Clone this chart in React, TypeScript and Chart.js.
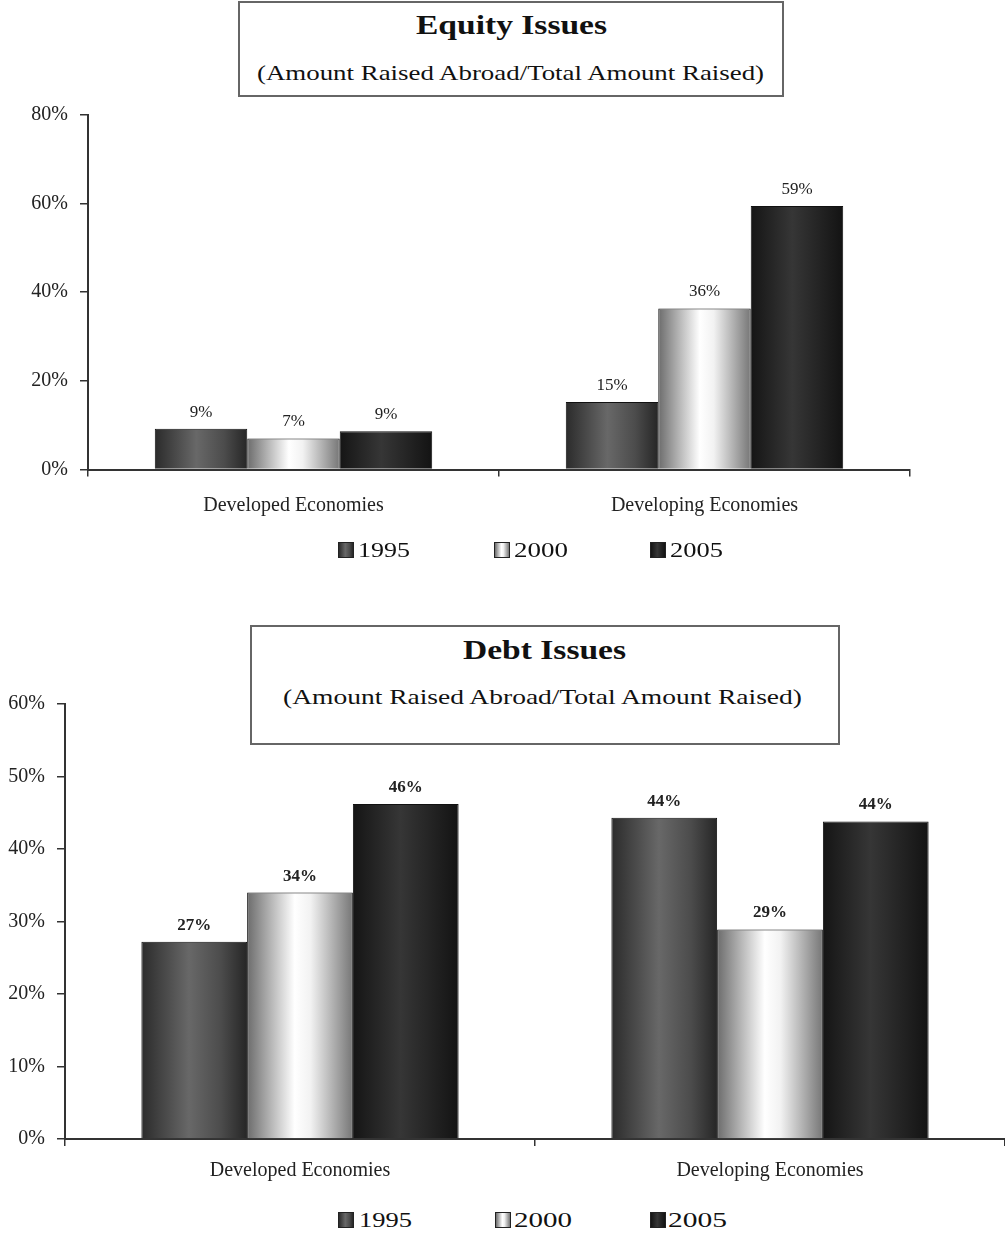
import React, { useEffect, useRef } from "react";
import { Chart, registerables } from "chart.js";

Chart.register(...registerables);

// ---------- data ----------
const categories = ["Developed Economies", "Developing Economies"];
const seriesNames = ["1995", "2000", "2005"];

const equity1995 = [9.2, 15.2];
const equity2000 = [7.0, 36.3];
const equity2005 = [8.6, 59.4];

const debt1995 = [27.2, 44.3];
const debt2000 = [34.0, 28.9];
const debt2005 = [46.2, 43.8];

const equityTicks = [0, 20, 40, 60, 80];
const debtTicks = [0, 10, 20, 30, 40, 50, 60];

const equityTitle = "Equity Issues";
const debtTitle = "Debt Issues";
const subTitle = "(Amount Raised Abroad/Total Amount Raised)";

// ---------- styles ----------
const SERIF = '"Liberation Serif", "Times New Roman", serif';

const gradientStops: [number, string][][] = [
  [[0, "#2b2b2b"], [0.45, "#686868"], [0.75, "#4c4c4c"], [1, "#262626"]],
  [[0, "#6c6c6c"], [0.45, "#ffffff"], [0.6, "#f2f2f2"], [1, "#767676"]],
  [[0, "#151515"], [0.45, "#363636"], [1, "#131313"]],
];
const solidColors = ["#555555", "#dddddd", "#262626"];

const cssGradient = (i: number) =>
  `linear-gradient(to right, ${gradientStops[i]
    .map(([o, c]) => `${c} ${o * 100}%`)
    .join(", ")})`;

const cylinderPlugin = {
  id: "cylinder",
  beforeDatasetsDraw(chart: any) {
    const ctx = chart.ctx;
    chart.data.datasets.forEach((_ds: any, di: number) => {
      const meta = chart.getDatasetMeta(di);
      meta.data.forEach((el: any) => {
        const half = el.width / 2;
        const g = ctx.createLinearGradient(el.x - half, 0, el.x + half, 0);
        gradientStops[di].forEach(([o, c]) => g.addColorStop(o, c));
        el.options = { ...el.options, backgroundColor: g };
      });
    });
  },
};

const valueLabelPlugin = {
  id: "valueLabels",
  afterDatasetsDraw(chart: any, _args: any, opts: any) {
    const ctx = chart.ctx;
    ctx.save();
    ctx.font = `${opts.weight || "normal"} ${opts.size || 16}px ${SERIF}`;
    ctx.fillStyle = "#222";
    ctx.textAlign = "center";
    ctx.textBaseline = "alphabetic";
    chart.data.datasets.forEach((ds: any, di: number) => {
      const meta = chart.getDatasetMeta(di);
      meta.data.forEach((el: any, i: number) => {
        ctx.fillText(Math.round(ds.data[i]) + "%", el.x, el.y - (opts.offset || 12));
      });
    });
    ctx.restore();
  },
};

const measureCtx = (() => {
  if (typeof document === "undefined") return null;
  return document.createElement("canvas").getContext("2d");
})();
function measure(text: string, font: string) {
  if (!measureCtx) return 1;
  measureCtx.font = font;
  return measureCtx.measureText(text).width || 1;
}

function Stretch({ text, size, bold, left, cy, width }: any) {
  const font = `${bold ? "bold " : ""}${size}px ${SERIF}`;
  const s = width / measure(text, font);
  return (
    <div
      style={{
        position: "absolute",
        left,
        top: cy - size / 2,
        font,
        lineHeight: 1,
        whiteSpace: "nowrap",
        color: "#111",
        transform: `scaleX(${s})`,
        transformOrigin: "left center",
      }}
    >
      {text}
    </div>
  );
}

function BarChart(props: any) {
  const ref = useRef<HTMLCanvasElement | null>(null);
  useEffect(() => {
    if (!ref.current) return;
    const ticks: number[] = props.ticks;
    const chart = new Chart(ref.current, {
      type: "bar",
      data: {
        labels: categories,
        datasets: props.series.map((d: number[], i: number) => ({
          label: seriesNames[i],
          data: d,
          backgroundColor: solidColors[i],
          borderColor: "#111",
          borderWidth: 1,
          borderSkipped: "bottom",
          categoryPercentage: 0.675,
          barPercentage: 1.0,
        })),
      },
      plugins: [cylinderPlugin, valueLabelPlugin],
      options: {
        responsive: false,
        animation: false,
        events: [],
        layout: { padding: props.padding },
        plugins: {
          legend: { display: false },
          title: { display: false },
          tooltip: { enabled: false },
          valueLabels: props.valueLabels,
        } as any,
        scales: {
          x: {
            afterFit: (s: any) => {
              s.height = props.xHeight;
            },
            grid: {
              display: true,
              drawOnChartArea: false,
              drawTicks: true,
              tickLength: 7,
              color: "#333",
              lineWidth: 1.5,
            },
            border: { display: true, color: "#333", width: 2 },
            ticks: {
              color: "#222",
              padding: props.xPad,
              font: { family: SERIF, size: 20 },
            },
          },
          y: {
            min: ticks[0],
            max: ticks[ticks.length - 1],
            afterFit: (s: any) => {
              s.width = props.yWidth;
            },
            grid: {
              display: true,
              drawOnChartArea: false,
              drawTicks: true,
              tickLength: 8,
              color: "#333",
              lineWidth: 1.5,
            },
            border: { display: true, color: "#333", width: 2 },
            ticks: {
              stepSize: ticks[1] - ticks[0],
              color: "#222",
              padding: 12,
              font: { family: SERIF, size: 20 },
              callback: (v: any) => v + "%",
            },
          },
        },
      },
    });
    return () => chart.destroy();
  }, []);
  return (
    <canvas
      ref={ref}
      width={props.width}
      height={props.height}
      style={{ position: "absolute", left: props.left, top: props.top, width: props.width, height: props.height }}
    />
  );
}

function TitleBox({ left, top, width, height, title, titleW, titleCy, titleL, sub, subW, subCy, subL }: any) {
  return (
    <>
      <div
        style={{
          position: "absolute",
          left,
          top,
          width,
          height,
          boxSizing: "border-box",
          border: "2px solid #666",
          background: "#fff",
        }}
      />
      <Stretch text={title} size={28} bold left={titleL} cy={titleCy} width={titleW} />
      <Stretch text={sub} size={22} left={subL} cy={subCy} width={subW} />
    </>
  );
}

function Legend({ cy, boxes, texts, widths }: any) {
  return (
    <>
      {seriesNames.map((n, i) => (
        <React.Fragment key={n}>
          <div
            style={{
              position: "absolute",
              left: boxes[i],
              top: cy - 8,
              width: 16,
              height: 16,
              boxSizing: "border-box",
              border: "1px solid #222",
              background: cssGradient(i),
            }}
          />
          <Stretch text={n} size={22} left={texts[i]} cy={cy} width={widths[i]} />
        </React.Fragment>
      ))}
    </>
  );
}

export default function App() {
  return (
    <div
      style={{
        position: "absolute",
        left: 0,
        top: 0,
        width: 1005,
        height: 1237,
        background: "#fff",
        overflow: "hidden",
        fontFamily: SERIF,
      }}
    >
      <BarChart
        left={0}
        top={90}
        width={1005}
        height={450}
        series={[equity1995, equity2000, equity2005]}
        ticks={equityTicks}
        padding={{ top: 24.5, right: 95, left: 0, bottom: 0 }}
        yWidth={88}
        xHeight={70.5}
        xPad={17}
        valueLabels={{ size: 17, weight: "normal", offset: 12 }}
      />
      <TitleBox
        left={238}
        top={1}
        width={546}
        height={96}
        title={equityTitle}
        titleL={416}
        titleW={191}
        titleCy={25}
        sub={subTitle}
        subL={257}
        subW={510}
        subCy={73}
      />
      <Legend cy={550} boxes={[338, 494, 650]} texts={[358, 514, 670]} widths={[52, 54, 53]} />

      <BarChart
        left={0}
        top={680}
        width={1005}
        height={510}
        series={[debt1995, debt2000, debt2005]}
        ticks={debtTicks}
        padding={{ top: 23, right: 0, left: 0, bottom: 0 }}
        yWidth={65}
        xHeight={51}
        xPad={13}
        valueLabels={{ size: 17, weight: "bold", offset: 12 }}
      />
      <TitleBox
        left={250}
        top={625}
        width={590}
        height={120}
        title={debtTitle}
        titleL={463}
        titleW={163}
        titleCy={650}
        sub={subTitle}
        subL={283}
        subW={522}
        subCy={697}
      />
      <Legend cy={1220} boxes={[338, 495, 650]} texts={[359, 514, 668]} widths={[53, 58, 59]} />
    </div>
  );
}
